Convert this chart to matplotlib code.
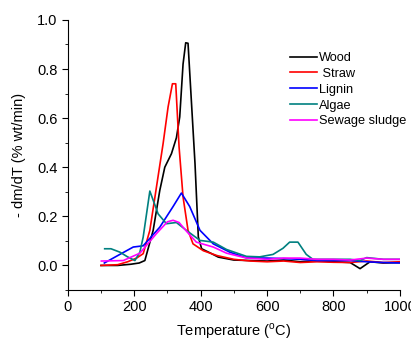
import matplotlib.pyplot as plt
from matplotlib.ticker import MultipleLocator

plt.rcParams['font.family'] = ['Liberation Sans', 'DejaVu Sans']

# Wood
t_wood = [100, 150, 190, 215, 232, 257, 277, 292, 312, 327, 337, 347, 355, 362, 383, 393, 403,
          430, 453, 500, 550, 600, 650, 700, 750, 800, 850, 880, 910, 950, 1000]
v_wood = [0.0, 0.0, 0.005, 0.01, 0.02, 0.143, 0.306, 0.40, 0.455, 0.52, 0.605, 0.82, 0.907, 0.905,
          0.415, 0.116, 0.068, 0.05, 0.034, 0.022, 0.02, 0.018, 0.022, 0.015, 0.02, 0.015, 0.012,
          -0.013, 0.015, 0.01, 0.012]
# Straw
t_straw = [100, 150, 180, 207, 227, 247, 267, 287, 302, 315, 325, 335, 347, 362, 377, 408, 450,
           500, 550, 600, 650, 700, 750, 800, 850, 900, 950, 1000]
v_straw = [0.0, 0.003, 0.015, 0.03, 0.048, 0.143, 0.32, 0.497, 0.646, 0.74, 0.74, 0.483, 0.279,
           0.143, 0.088, 0.06, 0.04, 0.025, 0.018, 0.015, 0.018, 0.012, 0.015, 0.013, 0.012, 0.018,
           0.012, 0.015]
# Lignin
t_lignin = [110, 150, 197, 227, 277, 317, 342, 367, 398, 438, 488, 538, 600, 650, 700, 750, 800,
            850, 900, 950, 1000]
v_lignin = [0.01, 0.04, 0.075, 0.08, 0.156, 0.24, 0.295, 0.24, 0.143, 0.088, 0.054, 0.031, 0.03,
            0.028, 0.025, 0.02, 0.02, 0.02, 0.015, 0.012, 0.01]
# Algae
t_algae = [111, 130, 157, 180, 202, 217, 227, 247, 272, 297, 327, 357, 398, 438, 478, 538, 578,
           618, 648, 668, 693, 718, 738, 800, 850, 880, 900, 950, 1000]
v_algae = [0.068, 0.068, 0.054, 0.035, 0.02, 0.054, 0.116, 0.303, 0.21, 0.17, 0.175, 0.143, 0.102,
           0.095, 0.065, 0.037, 0.035, 0.045, 0.07, 0.095, 0.095, 0.045, 0.025, 0.025, 0.025, 0.02,
           0.032, 0.025, 0.025]
# Sewage sludge
t_sludge = [101, 167, 217, 267, 300, 317, 335, 357, 387, 438, 478, 538, 600, 650, 700, 750, 800,
            850, 900, 950, 1000]
v_sludge = [0.018, 0.02, 0.05, 0.13, 0.178, 0.184, 0.175, 0.14, 0.095, 0.075, 0.05, 0.03, 0.025,
            0.03, 0.03, 0.025, 0.025, 0.022, 0.03, 0.025, 0.025]

series = [
    (t_wood, v_wood, 'black', 'Wood'),
    (t_straw, v_straw, 'red', ' Straw'),
    (t_lignin, v_lignin, 'blue', 'Lignin'),
    (t_algae, v_algae, '#008080', 'Algae'),
    (t_sludge, v_sludge, '#ff00ff', 'Sewage sludge'),
]

fig = plt.figure(figsize=(4.11, 3.38), dpi=100)
ax = fig.add_axes([0.165, 0.142, 0.808, 0.799])

for t, v, c, lab in series:
    ax.plot(t, v, color=c, lw=1.2, label=lab)

ax.set_xlim(0, 1000)
ax.set_ylim(-0.1, 1.0)
ax.xaxis.set_major_locator(MultipleLocator(200))
ax.xaxis.set_minor_locator(MultipleLocator(100))
ax.yaxis.set_minor_locator(MultipleLocator(0.1))
ax.set_yticks([0.0, 0.2, 0.4, 0.6, 0.8, 1.0])
ax.tick_params(which='both', direction='out', labelsize=10.5)
ax.tick_params(which='major', length=4)
ax.tick_params(which='minor', length=2.5)
ax.spines['top'].set_visible(False)
ax.spines['right'].set_visible(False)

ax.set_xlabel('Temperature ($^{\\mathregular{o}}$C)', fontsize=10.5, labelpad=5)
ax.set_ylabel('- dm/dT (% wt/min)', fontsize=10.5, labelpad=8)

ax.legend(loc='upper left', bbox_to_anchor=(0.69, 0.865), bbox_transform=fig.transFigure,
          frameon=False, fontsize=9.2, handlelength=2.1, handletextpad=0.2,
          labelspacing=0.3, borderpad=0)

plt.savefig('out.png', dpi=100)
